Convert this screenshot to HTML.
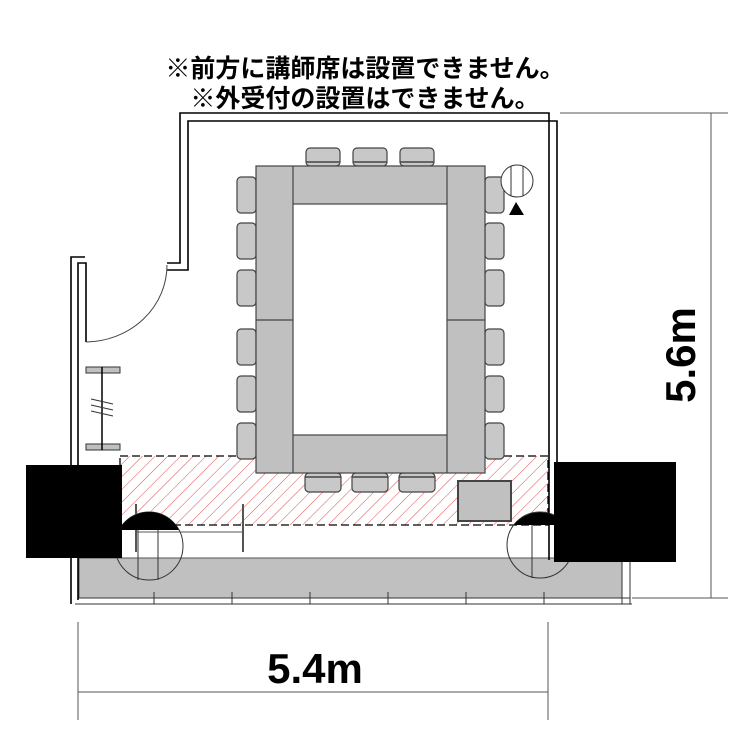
<!DOCTYPE html>
<html><head><meta charset="utf-8"><style>
html,body{margin:0;padding:0;background:#fff;}
svg{display:block;}
</style></head><body>
<svg width="750" height="750" viewBox="0 0 750 750" xmlns="http://www.w3.org/2000/svg">
<defs>
<pattern id="h" patternUnits="userSpaceOnUse" width="9" height="9" patternTransform="rotate(45)">
<line x1="0" y1="0" x2="0" y2="9" stroke="#e05050" stroke-width="1"/>
</pattern>
</defs>
<text x="365" y="77" font-family="Liberation Sans, Noto Sans CJK JP, sans-serif" font-size="25" font-weight="bold" text-anchor="middle">※前方に講師席は設置できません。</text>
<text x="365" y="107" font-family="Liberation Sans, Noto Sans CJK JP, sans-serif" font-size="25" font-weight="bold" text-anchor="middle">※外受付の設置はできません。</text>

<!-- bottom gray band -->
<rect x="79" y="558" width="543" height="40" fill="#c0c0c0" stroke="#555" stroke-width="1"/>
<g stroke="#333" stroke-width="1" fill="none">
<line x1="79" y1="598" x2="630" y2="598"/>
<line x1="75" y1="604" x2="632" y2="604"/>
<line x1="154" y1="592" x2="154" y2="604"/><line x1="232" y1="592" x2="232" y2="604"/>
<line x1="310" y1="592" x2="310" y2="604"/><line x1="388" y1="592" x2="388" y2="604"/>
<line x1="466" y1="592" x2="466" y2="604"/><line x1="544" y1="592" x2="544" y2="604"/>
<line x1="622" y1="562" x2="622" y2="604"/><line x1="630" y1="562" x2="630" y2="604"/>
</g>

<!-- walls -->
<g fill="none" stroke="#000" stroke-width="1.6">
<polyline points="167,263 180,263 180,113 549,113 549,560"/>
<polyline points="167,270 188,270 188,121 557,121 557,560"/>
<polyline points="71,604 71,257 85,257"/>
<polyline points="78,600 78,263 86,263 86,342"/>
</g>
<path d="M167,265 A82,77 0 0 1 86,342" fill="none" stroke="#444" stroke-width="1"/>

<!-- left whiteboard -->
<rect x="86" y="367" width="34" height="6" fill="#c0c0c0" stroke="#333"/>
<rect x="86" y="444" width="34" height="6" fill="#c0c0c0" stroke="#333"/>
<line x1="102" y1="367" x2="102" y2="450" stroke="#000" stroke-width="1.5"/>
<g stroke="#333" stroke-width="1"><line x1="91" y1="399" x2="113" y2="404"/><line x1="91" y1="405" x2="113" y2="410"/><line x1="91" y1="411" x2="113" y2="416"/></g>

<!-- hatched zone -->
<rect x="120" y="456" width="428" height="69" fill="url(#h)" stroke="#000" stroke-width="1.3" stroke-dasharray="8,4"/>

<!-- chairs -->
<g fill="#c8c8c8" stroke="#444" stroke-width="1.2">
<rect x="306" y="148" width="34" height="18" rx="4"/><rect x="353" y="148" width="34" height="18" rx="4"/><rect x="400" y="148" width="34" height="18" rx="4"/>
<rect x="305" y="473" width="36" height="19" rx="4"/><rect x="352" y="473" width="36" height="19" rx="4"/><rect x="399" y="473" width="36" height="19" rx="4"/>
<rect x="237" y="177" width="19" height="36" rx="4"/><rect x="237" y="223" width="19" height="36" rx="4"/><rect x="237" y="270" width="19" height="36" rx="4"/>
<rect x="237" y="329" width="19" height="36" rx="4"/><rect x="237" y="376" width="19" height="36" rx="4"/><rect x="237" y="423" width="19" height="36" rx="4"/>
<rect x="485" y="177" width="19" height="36" rx="4"/><rect x="485" y="223" width="19" height="36" rx="4"/><rect x="485" y="270" width="19" height="36" rx="4"/>
<rect x="485" y="329" width="19" height="36" rx="4"/><rect x="485" y="376" width="19" height="36" rx="4"/><rect x="485" y="423" width="19" height="36" rx="4"/>
</g>
<g stroke="#444" stroke-width="1.5">
<line x1="306" y1="162" x2="340" y2="162"/><line x1="353" y1="162" x2="387" y2="162"/><line x1="400" y1="162" x2="434" y2="162"/>
<line x1="305" y1="477" x2="341" y2="477"/><line x1="352" y1="477" x2="388" y2="477"/><line x1="399" y1="477" x2="435" y2="477"/>
</g>

<!-- table -->
<rect x="256" y="166" width="229" height="307" fill="#c0c0c0" stroke="#444" stroke-width="1.2"/>
<rect x="293" y="204" width="154" height="231" fill="#fff" stroke="#444" stroke-width="1.2"/>
<g stroke="#444" stroke-width="1.2">
<line x1="293" y1="166" x2="293" y2="204"/><line x1="447" y1="166" x2="447" y2="204"/>
<line x1="293" y1="435" x2="293" y2="473"/><line x1="447" y1="435" x2="447" y2="473"/>
<line x1="256" y1="320" x2="293" y2="320"/><line x1="447" y1="320" x2="485" y2="320"/>
</g>

<!-- cabinet -->
<rect x="458" y="481" width="53" height="40" fill="#c0c0c0" stroke="#444" stroke-width="2"/>

<!-- projector -->
<circle cx="517" cy="181" r="16" fill="#fff" stroke="#333"/>
<line x1="511" y1="166" x2="511" y2="196" stroke="#333"/><line x1="523" y1="166" x2="523" y2="196" stroke="#333"/>
<polygon points="516,202 509,215 524,215" fill="#000"/>

<!-- door circles -->
<circle cx="149" cy="546" r="34" fill="none" stroke="#333"/>
<line x1="138" y1="530" x2="138" y2="580" stroke="#333"/><line x1="158" y1="530" x2="158" y2="580" stroke="#333"/>
<line x1="136" y1="532" x2="243" y2="532" stroke="#555"/>
<line x1="136" y1="504" x2="136" y2="552" stroke="#555" stroke-width="2"/>
<line x1="243" y1="504" x2="243" y2="552" stroke="#555" stroke-width="2"/>
<path d="M119,530 A34,34 0 0 1 179,530 Z" fill="#000"/>
<circle cx="540" cy="545" r="33" fill="none" stroke="#333"/>
<line x1="532" y1="525" x2="532" y2="578" stroke="#333"/>
<path d="M514,525 A33,33 0 0 1 566,525 Z" fill="#000"/>

<!-- black blocks -->
<rect x="26" y="465" width="96" height="93" fill="#000"/>
<rect x="554" y="462" width="122" height="100" fill="#000"/>

<!-- dimensions -->
<g stroke="#555" stroke-width="1">
<line x1="711" y1="113" x2="711" y2="598"/>
<line x1="560" y1="113" x2="728" y2="113"/>
<line x1="632" y1="598" x2="728" y2="598"/>
<line x1="78" y1="692" x2="548" y2="692"/>
<line x1="78" y1="622" x2="78" y2="720"/>
<line x1="548" y1="622" x2="548" y2="720"/>
</g>
<text x="315" y="683" font-family="Liberation Sans, sans-serif" font-size="42" font-weight="bold" text-anchor="middle">5.4m</text>
<text transform="translate(695,355) rotate(-90)" font-family="Liberation Sans, sans-serif" font-size="42" font-weight="bold" text-anchor="middle">5.6m</text>
</svg>
</body></html>
